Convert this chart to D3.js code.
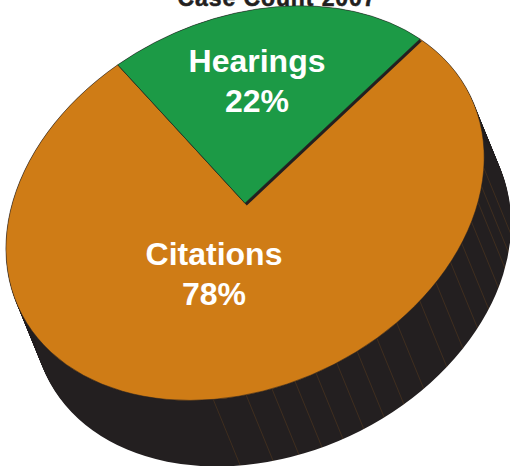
<!DOCTYPE html>
<html>
<head>
<meta charset="utf-8">
<script src="https://cdn.jsdelivr.net/npm/d3@7/dist/d3.min.js"></script>
<style>
  html, body { margin: 0; padding: 0; background: #fff; }
  svg { display: block; }
  text { font-family: "Liberation Sans", Arial, sans-serif; font-weight: 700; }
</style>
</head>
<body>
<svg id="chart" width="510" height="466"></svg>
<script>
// Court case counts for 2007
const categories = ["Hearings", "Citations"];
const shares = [22, 78];
const sliceColors = ["#1c9a46", "#cf7c16"];
const titleText = "Case Count 2007";
// Positions of the facet seams on the rim, in degrees clockwise from the pie's top
const rimSeams = [206.6, 198.7, 192.5, 186.9, 181.7, 176.4, 171, 165.5, 159.6, 152, 146, 139.7, 134, 127.7, 122, 117.4, 112];

const rimColor = "#231f20";
const cx = 245, cy = 203.2, rx = 249.5, ry = 184, tilt = -25;
const drop = { x: 27, y: 66 };
const startDeg = -13.2;

const svg = d3.select("#chart");
const diskTransform = (dx, dy) =>
  `translate(${cx + dx},${cy + dy}) rotate(${tilt}) scale(${rx},${ry})`;

const pie = d3.pie().sort(null).value(d => d)
  .startAngle(startDeg * Math.PI / 180)
  .endAngle((360 + startDeg) * Math.PI / 180);
const slices = pie(shares);
const unitArc = d3.arc().innerRadius(0).outerRadius(1);

// Map a pie angle (degrees) to page coordinates on the tilted disk
const t = tilt * Math.PI / 180;
const rimPoint = deg => {
  const a = deg * Math.PI / 180;
  const u = rx * Math.sin(a), v = -ry * Math.cos(a);
  return [cx + u * Math.cos(t) - v * Math.sin(t),
          cy + u * Math.sin(t) + v * Math.cos(t)];
};

// Title runs off the top edge of the page
svg.append("text")
  .attr("x", 277).attr("y", 5.5)
  .attr("text-anchor", "middle")
  .attr("font-size", 23)
  .attr("letter-spacing", 0.9)
  .attr("fill", rimColor)
  .attr("stroke", rimColor)
  .attr("stroke-width", 0.5)
  .text(titleText);

// Extruded rim: lower disk, swept up to the top disk along the drop vector
const rim = svg.append("g");
d3.range(0, 1.0001, 0.02).forEach(f => {
  rim.append("ellipse")
    .attr("rx", 1).attr("ry", 1)
    .attr("transform", diskTransform(drop.x * f, drop.y * f))
    .attr("fill", rimColor);
});

// Facet seams down the rim
svg.append("g").selectAll("line").data(rimSeams).join("line")
  .attr("x1", d => rimPoint(d)[0])
  .attr("y1", d => rimPoint(d)[1])
  .attr("x2", d => rimPoint(d)[0] + drop.x)
  .attr("y2", d => rimPoint(d)[1] + drop.y)
  .attr("stroke", "#cf7c16")
  .attr("stroke-opacity", 0.24)
  .attr("stroke-width", 0.7);

const faceStyle = sel => sel
  .attr("d", unitArc)
  .attr("transform", diskTransform(0, 0))
  .attr("fill", d => sliceColors[d.index])
  .attr("stroke", rimColor)
  .attr("stroke-width", 0.7)
  .attr("stroke-opacity", 0.75)
  .attr("vector-effect", "non-scaling-stroke");

// Citations face, then the wedge's dark edge, then the Hearings face on top
svg.append("g").selectAll("path").data([slices[1]]).join("path").call(faceStyle);

svg.append("path")
  .attr("d", unitArc(slices[0]))
  .attr("transform", diskTransform(1.8, 2.2))
  .attr("fill", rimColor);

svg.append("g").selectAll("path").data([slices[0]]).join("path").call(faceStyle);

// Slice labels
const labelSpots = [[257, 72], [214, 265]];
const labels = svg.append("g").attr("fill", "#fff").attr("text-anchor", "middle").attr("font-size", 32);
categories.forEach((name, i) => {
  labels.append("text").attr("x", labelSpots[i][0]).attr("y", labelSpots[i][1]).text(name);
  labels.append("text").attr("x", labelSpots[i][0]).attr("y", labelSpots[i][1] + 40).text(shares[i] + "%");
});
</script>
</body>
</html>
